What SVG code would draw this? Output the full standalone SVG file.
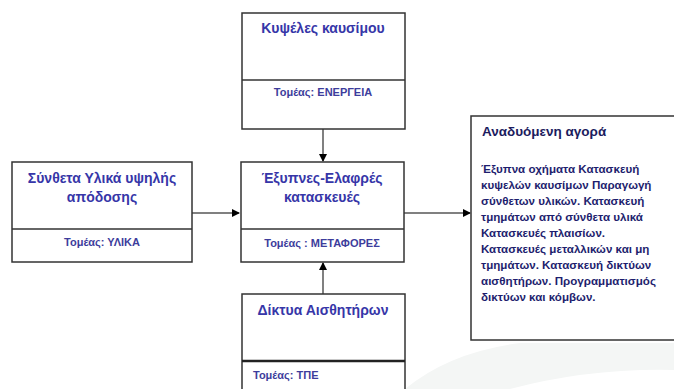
<svg xmlns="http://www.w3.org/2000/svg" width="674" height="389" viewBox="0 0 674 389">
  <defs>
    <style>
      .box { fill: #ffffff; stroke: #333333; stroke-width: 1.5; }
      .div { stroke: #333333; stroke-width: 1.5; }
      .title { font-family: "Liberation Sans", Arial, sans-serif; font-weight: bold; font-size: 14px; fill: #3636a8; text-anchor: middle; }
      .sector { font-family: "Liberation Sans", Arial, sans-serif; font-weight: bold; font-size: 11px; fill: #3d3d9c; text-anchor: middle; }
      .rtitle { font-family: "Liberation Sans", Arial, sans-serif; font-weight: bold; font-size: 13.5px; fill: #1c1c5e; }
      .body { font-family: "Liberation Sans", Arial, sans-serif; font-weight: bold; font-size: 11.6px; fill: #1e1e6e; }
      .conn { stroke: #808080; stroke-width: 2; fill: none; }
    </style>
    <marker id="arr" markerWidth="8" markerHeight="8" refX="7" refY="4" orient="auto" markerUnits="userSpaceOnUse">
      <path d="M0,0 L8,4 L0,8 Z" fill="#000000"/>
    </marker>
  </defs>
  <rect width="674" height="389" fill="#ffffff"/>
  <path d="M405,389 Q450,352 520,343 L674,343 L674,370 Q590,368 510,389 Z" fill="#f4f6f5"/>

  <g id="connectors">
    <line class="conn" x1="323" y1="129" x2="323" y2="161" marker-end="url(#arr)"/>
    <line class="conn" x1="192" y1="213" x2="239" y2="213" marker-end="url(#arr)"/>
    <line class="conn" x1="404" y1="213" x2="470" y2="213" marker-end="url(#arr)"/>
    <line class="conn" x1="323" y1="294" x2="323" y2="263" marker-end="url(#arr)"/>
  </g>

  <g id="node-kypseles">
    <rect class="box" x="242" y="13" width="163" height="116"/>
    <line class="div" x1="242" y1="80" x2="405" y2="80"/>
    <text class="title" x="323" y="33">Κυψέλες καυσίμου</text>
    <text class="sector" x="323" y="96">Τομέας: ΕΝΕΡΓΕΙΑ</text>
  </g>

  <g id="node-synthetа">
    <rect class="box" x="12" y="162" width="180" height="100"/>
    <line class="div" x1="12" y1="229" x2="192" y2="229"/>
    <text class="title" x="102" y="183">Σύνθετα Υλικά υψηλής</text>
    <text class="title" x="102" y="202">απόδοσης</text>
    <text class="sector" x="102" y="246">Τομέας: ΥΛΙΚΑ</text>
  </g>

  <g id="node-exypnes">
    <rect class="box" x="241" y="162" width="163" height="100"/>
    <line class="div" x1="241" y1="229" x2="404" y2="229"/>
    <text class="title" x="322" y="183">Έξυπνες-Ελαφρές</text>
    <text class="title" x="322" y="202">κατασκευές</text>
    <text class="sector" x="322" y="247">Τομέας : ΜΕΤΑΦΟΡΕΣ</text>
  </g>

  <g id="node-diktya">
    <rect class="box" x="242" y="294" width="163" height="110"/>
    <line x1="242" y1="361" x2="405" y2="361" stroke="#222222" stroke-width="2.5"/>
    <text class="title" x="323" y="315">Δίκτυα Αισθητήρων</text>
    <text class="sector" x="253" y="379" style="text-anchor:start">Τομέας: ΤΠΕ</text>
  </g>

  <g id="node-agora">
    <rect class="box" x="471" y="116" width="215" height="224"/>
    <text class="rtitle" x="482" y="136">Αναδυόμενη αγορά</text>
    <text class="body" x="481" y="173">Έξυπνα οχήματα Κατασκευή</text>
    <text class="body" x="481" y="189">κυψελών καυσίμων Παραγωγή</text>
    <text class="body" x="481" y="205">σύνθετων υλικών. Κατασκευή</text>
    <text class="body" x="481" y="221">τμημάτων από σύνθετα υλικά</text>
    <text class="body" x="481" y="237">Κατασκευές πλαισίων.</text>
    <text class="body" x="481" y="253">Κατασκευές μεταλλικών και μη</text>
    <text class="body" x="481" y="269">τμημάτων. Κατασκευή δικτύων</text>
    <text class="body" x="481" y="285">αισθητήρων. Προγραμματισμός</text>
    <text class="body" x="481" y="301">δικτύων και κόμβων.</text>
  </g>
</svg>
